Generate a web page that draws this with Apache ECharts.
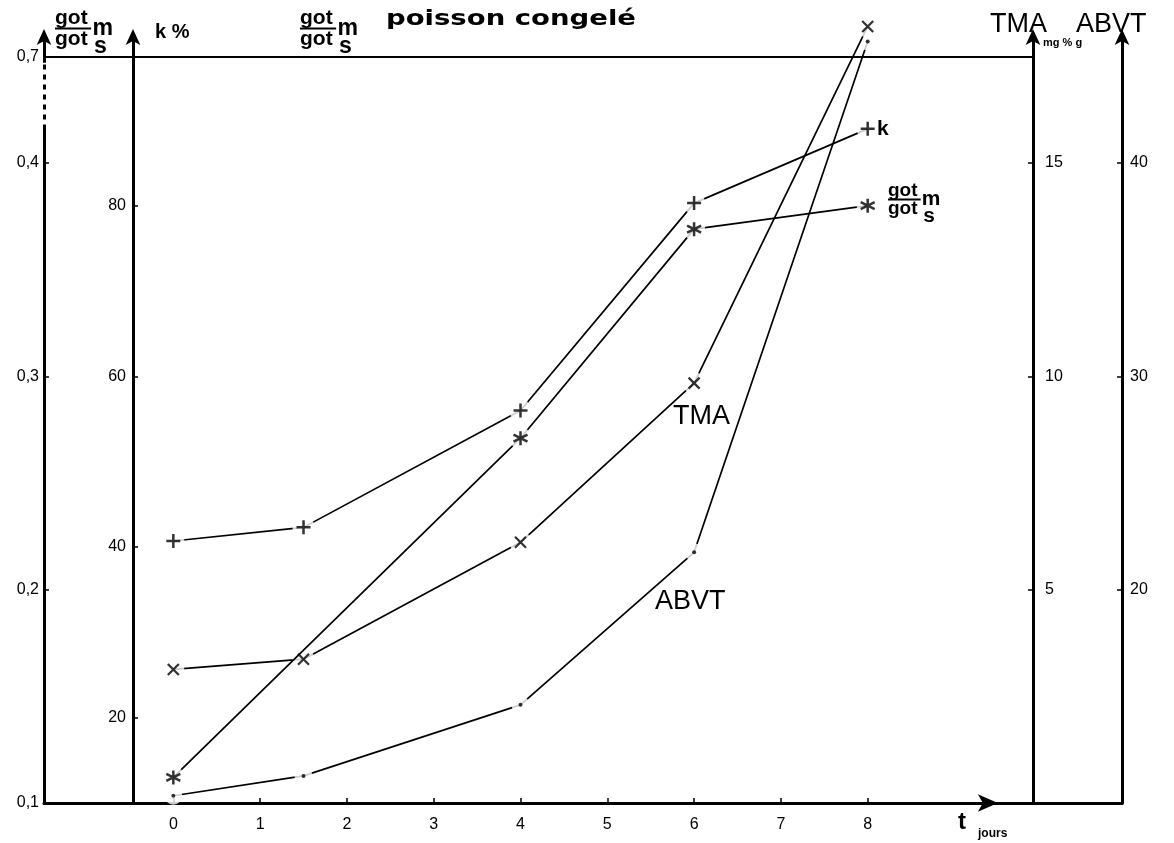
<!DOCTYPE html>
<html><head><meta charset="utf-8">
<script src="https://cdn.jsdelivr.net/npm/echarts@6/dist/echarts.min.js"></script>
<style>html,body{margin:0;padding:0;background:#fff}#c{width:1174px;height:843px}</style>
</head><body><div id="c"></div>
<script>
// ---- data ----
const days = [0, 1.5, 4, 6, 8];
const kPercent = [40.7, 42.3, 56.0, 80.3, 89.0];
const gotRatio = [0.112, null, 0.271, 0.369, 0.380];
const tmaMg = [3.13, 3.37, 6.11, 9.84, 18.2];
const abvtMg = [10.34, 11.27, 14.6, 21.75, 45.7];

// ---- ticks / labels ----
const xTicks = [0, 1, 2, 3, 4, 5, 6, 7, 8];
const gotTicks = [0.1, 0.2, 0.3, 0.4, 0.45];
const gotTickLabels = ['0,1', '0,2', '0,3', '0,4', '0,7'];
const kTicks = [20, 40, 60, 80];
const tmaTicks = [5, 10, 15];
const abvtTicks = [20, 30, 40];

const F = 'Liberation Sans, Arial, Helvetica, sans-serif';
const chart = echarts.init(document.getElementById('c'), null, {renderer: 'canvas', width: 1174, height: 843});
const pairs = ys => days.map((d, i) => [d, ys[i]]).filter(p => p[1] != null);

const PLUS = 'path://M6,0L6,12M0,6L12,6';
const CROSS = 'path://M0,0L10,10M10,0L0,10';
const STAR = 'path://M6,0L6,12M0.8,3L11.2,9M11.2,3L0.8,9';

const defs = [
  {name: 'ABVT', data: abvtMg, axis: 3, sym: 'circle', size: 4, bw: 0, halo: 18, z: 2},
  {name: 'TMA', data: tmaMg, axis: 2, sym: CROSS, size: 11, bw: 2.3, halo: 22, z: 4},
  {name: 'got', data: gotRatio, axis: 0, sym: STAR, size: 14, bw: 2.5, halo: 22, z: 6},
  {name: 'k', data: kPercent, axis: 1, sym: PLUS, size: 14, bw: 2.5, halo: 22, z: 8}
];

const series = [];
defs.forEach(d => {
  const line = {
    type: 'line', name: d.name, yAxisIndex: d.axis, data: pairs(d.data),
    showSymbol: false, clip: false, z: d.z, silent: true,
    lineStyle: {color: '#000', width: 1.7}
  };
  if (d.name === 'got') {
    line.markLine = {
      silent: true, symbol: ['none', 'none'], label: {show: false},
      lineStyle: {color: '#000', width: 2, type: 'solid'},
      data: [
        [{coord: [-1.49, 0.45]}, {coord: [9.9, 0.45]}],
        [{coord: [-1.49, 0.418], lineStyle: {color: '#fff', width: 6, type: [5, 5]}}, {coord: [-1.49, 0.447]}]
      ]
    };
    line.markPoint = {
      silent: true, label: {show: false},
      data: [{coord: [9.5, 0.1], symbol: 'arrow', symbolSize: [13, 20], symbolRotate: -90, itemStyle: {color: '#000'}}]
    };
  }
  series.push(line);
  series.push({
    type: 'scatter', yAxisIndex: d.axis, data: pairs(d.data), clip: false, silent: true,
    z: d.z + 1, symbol: 'circle', symbolSize: d.halo, itemStyle: {color: '#fff'}
  });
  series.push({
    type: 'scatter', yAxisIndex: d.axis, data: pairs(d.data), clip: false, silent: true,
    z: 20, symbol: d.sym, symbolSize: d.size,
    itemStyle: {color: '#000', borderColor: '#000', borderWidth: d.bw}
  });
});

function yAxis(pos, offset, min, max, ticks, labels, labelMargin) {
  return {
    type: 'value', position: pos, offset: offset, min: min, max: max,
    splitLine: {show: false},
    axisLine: {show: true, onZero: false, symbol: ['none', 'arrow'], symbolSize: [11, 16], symbolOffset: [0, 6],
      lineStyle: {color: '#000', width: 3}},
    axisTick: {show: true, inside: true, length: 5, customValues: ticks.filter(v => v !== 0.45),
      lineStyle: {color: '#000', width: 1.5}},
    axisLabel: {customValues: ticks, color: '#000', fontSize: 16, fontFamily: F, margin: labelMargin,
      formatter: labels ? (v => { const i = ticks.findIndex(t => Math.abs(t - v) < 1e-6); return i >= 0 ? labels[i] : ''; }) : (v => String(v))}
  };
}

function txt(x, y, text, size, weight, family, extra) {
  return Object.assign({type: 'text', x: x, y: y, z: 100,
    style: {text: text, fontSize: size, fontWeight: weight, fontFamily: family || F, fill: '#000', verticalAlign: 'middle'}}, extra || {});
}
function frac(x, y, sz) {
  const st = (t, s) => ({text: t, fontSize: s, fontWeight: 'bold', fontFamily: F, fill: '#000', verticalAlign: 'top'});
  return {type: 'group', x: x, y: y, z: 100, children: [
    {type: 'text', x: 0, y: 0, style: st('got', sz)},
    {type: 'line', shape: {x1: 0, y1: sz * 0.98, x2: sz * 1.72, y2: sz * 0.98}, style: {stroke: '#000', lineWidth: 2}},
    {type: 'text', x: 0, y: sz * 0.98, style: st('got', sz)},
    {type: 'text', x: sz * 1.78, y: sz * 0.42, style: st('m', sz * 1.1)},
    {type: 'text', x: sz * 1.86, y: sz * 1.3, style: st('s', sz * 1.1)}
  ]};
}

chart.setOption({
  animation: false,
  backgroundColor: '#fff',
  grid: {left: 44, right: 52, top: 35, bottom: 40, containLabel: false, outerBoundsMode: 'none'},
  xAxis: {
    type: 'value', min: -1.49, max: 10.93, splitLine: {show: false},
    axisLine: {onZero: false, lineStyle: {color: '#000', width: 3}},
    axisTick: {customValues: xTicks, inside: true, length: 5, lineStyle: {color: '#000', width: 1.5}},
    axisLabel: {customValues: xTicks, color: '#000', fontSize: 16, fontFamily: F, margin: 14}
  },
  yAxis: [
    yAxis('left', 0, 0.1, 0.46, gotTicks, gotTickLabels, 5),
    yAxis('left', -89, 10, 100, kTicks, null, 7),
    yAxis('right', -89, 0, 18, tmaTicks, null, 12),
    yAxis('right', 0, 10, 46, abvtTicks, null, 8)
  ],
  series: series,
  graphic: [
    frac(55, 8, 21),
    txt(155, 32, 'k %', 20, 'bold'),
    frac(300, 8, 21),
    txt(386, 19, 'poisson congelé', 22, 'bold', 'DejaVu Sans', {scaleX: 1.25}),
    txt(990, 25, 'TMA', 27, 'normal'),
    txt(1076, 25, 'ABVT', 27, 'normal'),
    txt(1043, 43, 'mg % g', 11, 'bold'),
    txt(673, 417, 'TMA', 27, 'normal'),
    txt(655, 602, 'ABVT', 27, 'normal'),
    txt(877, 129, 'k', 21, 'bold'),
    frac(888, 181, 19),
    txt(958, 822, 't', 24, 'bold'),
    txt(978, 834, 'jours', 12, 'bold')
  ]
});
</script></body></html>
